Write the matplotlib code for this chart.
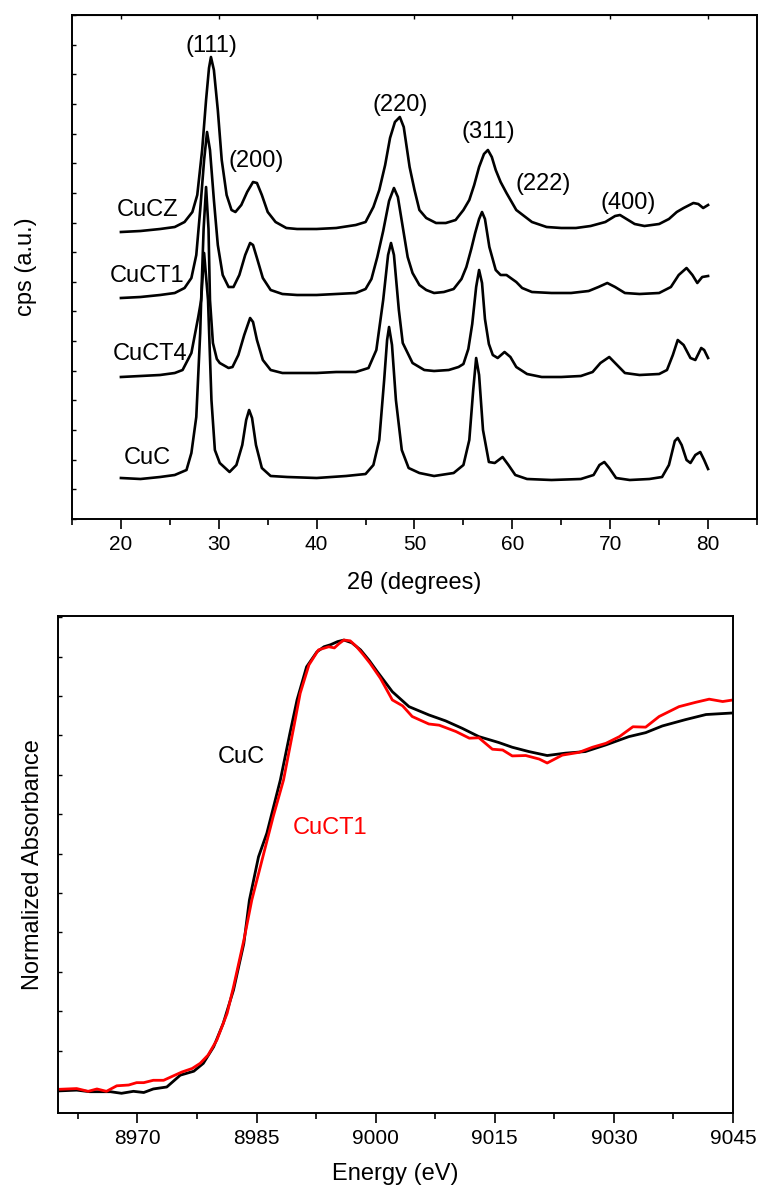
import numpy as np
import matplotlib
matplotlib.use("Agg")
import matplotlib.pyplot as plt
from matplotlib.ticker import MultipleLocator

plt.rcParams['font.family'] = ['Liberation Sans', 'DejaVu Sans']

# ---- XRD patterns (2theta in degrees, intensity in a.u., offset stack) ----
tt_cucz = [20, 22, 24, 25.5, 26.5, 27.3, 27.8, 28.3, 28.7, 29.0, 29.2, 29.5, 29.9, 30.3, 30.8, 31.3, 31.7,
           32.3, 32.9, 33.5, 33.9, 34.4, 35.0, 35.8, 36.9, 38, 40, 42, 44, 45, 45.8, 46.4, 47.0, 47.5,
           48.0, 48.5, 48.9, 49.5, 50.0, 50.5, 51.2, 52.2, 53.2, 54.2, 55.0, 55.6, 56.1, 56.6, 57.1, 57.5,
           57.9, 58.3, 58.8, 59.4, 60.4, 61.2, 62, 63.5, 65, 66.5, 68, 69.5, 70.5, 71, 71.5, 72.5, 73.5,
           75, 76, 76.8, 77.5, 78.5, 79, 79.5, 80]
i_cucz = [287, 288, 290, 292, 297, 307, 324, 369, 419, 451, 462, 449, 409, 359, 324, 309, 307,
          314, 327, 337, 336, 324, 307, 297, 291, 290, 290, 291, 294, 297, 312, 329, 354, 381,
          397, 402, 392, 352, 329, 309, 301, 296, 296, 299, 309, 319, 334, 352, 365, 369,
          362, 349, 337, 326, 309, 303, 297, 292, 291, 291, 293, 297, 303, 304, 301, 295, 293,
          295, 300, 307, 311, 316, 315, 311, 314]

tt_cuct1 = [20, 22, 24, 25.5, 26.5, 27.2, 27.7, 28.1, 28.5, 28.8, 29.1, 29.5, 29.9, 30.4, 31.0, 31.5,
            32.1, 32.7, 33.2, 33.5, 33.9, 34.5, 35.3, 36.5, 38, 40, 42, 44, 45.0, 45.6, 46.2, 46.8,
            47.4, 47.9, 48.3, 48.8, 49.3, 49.8, 50.5, 51.2, 52, 53, 54, 54.8, 55.3, 55.8, 56.2, 56.6,
            56.9, 57.2, 57.65, 58.3, 58.8, 59.4, 60.4, 61.0, 62, 64, 66, 67.8, 68.8, 69.7, 70.5, 71.5,
            73, 75, 76.2, 77, 77.8, 78.4, 78.9, 79.4, 80]
i_cuct1 = [221, 222, 224, 226, 231, 241, 264, 309, 359, 387, 369, 319, 274, 244, 232, 232,
           244, 264, 276, 274, 261, 241, 229, 225, 224, 224, 225, 226, 230, 240, 262, 288,
           318, 331, 322, 292, 262, 246, 234, 229, 226, 227, 230, 240, 252, 270, 286, 300,
           307, 300, 272, 249, 244, 244, 237, 231, 227, 226, 226, 228, 232, 236, 232, 226,
           225, 226, 232, 244, 251, 244, 236, 242, 243]

tt_cuct4 = [20, 22, 24, 25.5, 26.3, 27.2, 27.9, 28.2, 28.45, 28.7, 28.95, 29.1, 29.4, 29.8, 30.1, 31.0,
            31.4, 32.0, 32.6, 33.2, 33.5, 33.9, 34.5, 35.3, 36.5, 38, 40, 42, 44, 45.3, 46.1, 46.8,
            47.3, 47.6, 47.9, 48.4, 48.8, 49.8, 51, 52, 53.5, 54.5, 55.0, 55.5, 55.9, 56.3, 56.6, 56.9,
            57.2, 57.6, 58.0, 58.5, 59.2, 59.8, 60.4, 61.5, 63, 65, 67, 68.2, 69.0, 69.9, 70.6, 71.5,
            73, 75, 75.8, 76.4, 76.9, 77.5, 78.2, 78.7, 79.3, 79.6, 80]
i_cuct4 = [142, 143, 144, 146, 149, 166, 202, 219, 290, 332, 290, 219, 176, 160, 156, 151,
           152, 164, 184, 201, 197, 179, 159, 149, 146, 146, 146, 147, 147, 151, 169, 219,
           264, 276, 264, 209, 176, 156, 149, 148, 149, 152, 155, 170, 195, 232, 249, 236,
           200, 175, 164, 161, 167, 162, 152, 145, 142, 142, 143, 147, 156, 162, 155, 146,
           144, 145, 149, 164, 179, 174, 161, 159, 171, 169, 161]

tt_cuc = [20, 22, 24, 25.5, 26.7, 27.2, 27.7, 28.1, 28.2, 28.5, 28.9, 29.25, 29.6, 30.1, 31.1,
          31.8, 32.4, 32.8, 33.1, 33.4, 33.8, 34.4, 35.3, 37, 40, 43, 45, 45.8, 46.4, 46.9, 47.2,
          47.4, 47.7, 48.1, 48.7, 49.4, 50.5, 52, 54, 55.0, 55.6, 56.0, 56.3, 56.6, 57.0, 57.6, 58.2,
          59.0, 59.6, 60.3, 61.5, 64, 67, 68.3, 68.9, 69.4, 69.9, 70.6, 72, 74, 75.3, 76.0, 76.6,
          76.9, 77.3, 77.8, 78.2, 78.7, 79.2, 79.6, 80]
i_cuc = [41, 40, 42, 44, 49, 66, 102, 186, 219, 266, 219, 119, 69, 56, 47,
         54, 74, 99, 109, 101, 74, 51, 43, 42, 41, 43, 45, 54, 79, 139, 179,
         192, 174, 119, 69, 51, 46, 43, 46, 54, 79, 129, 161, 144, 89, 57, 56,
         62, 54, 44, 40, 39, 40, 44, 54, 57, 51, 41, 39, 40, 42, 54, 78,
         81, 74, 59, 56, 64, 67, 59, 50]

# ---- XANES Cu K-edge (energy in eV, normalized absorbance) ----
e_cuc = [8960, 8962.35, 8964.0, 8966.6, 8968.0, 8969.5, 8970.8, 8972.0, 8973.7, 8975.4, 8977.1,
         8978.3, 8979.6, 8980.8, 8982.1, 8983.4, 8984.1, 8985.25, 8986.3, 8988.0, 8989.2, 8990.1,
         8991.3, 8992.6, 8993.5, 8994.3, 8995.2, 8996.0, 8997.0, 8998.1, 8999.2, 9000.2, 9002.1,
         9004.2, 9006.7, 9008.8, 9010.9, 9013, 9015.5, 9017.2, 9019.3, 9021.6, 9023.9, 9026.4,
         9029, 9031.9, 9034, 9036.1, 9039, 9041.6, 9045]
a_cuc = [-0.002, 0.0, -0.004, -0.004, -0.008, -0.003, -0.006, 0.003, 0.008, 0.038, 0.048,
         0.068, 0.11, 0.169, 0.254, 0.372, 0.482, 0.592, 0.652, 0.787, 0.905, 0.99,
         1.074, 1.112, 1.125, 1.13, 1.138, 1.142, 1.135, 1.117, 1.09, 1.062, 1.011,
         0.973, 0.952, 0.937, 0.918, 0.897, 0.882, 0.870, 0.859, 0.849, 0.855, 0.859,
         0.876, 0.897, 0.907, 0.924, 0.94, 0.953, 0.957]

e_cuct1 = [8960, 8962.35, 8963.8, 8964.9, 8966.1, 8967.4, 8968.9, 8969.9, 8970.8, 8972.0, 8973.3,
           8974.5, 8975.6, 8976.9, 8977.9, 8978.9, 8980.0, 8981.3, 8982.1, 8983.4, 8984.4, 8985.9,
           8987.1, 8988.4, 8989.7, 8990.5, 8991.6, 8992.8, 8994.1, 8994.8, 8995.4, 8996.0, 8996.8,
           8997.6, 8998.4, 8999.3, 9000.6, 9002.1, 9003.4, 9004.6, 9006.7, 9008, 9010.1, 9011.8,
           9013, 9014.7, 9016, 9017.2, 9018.9, 9020.6, 9021.6, 9023.5, 9025.6, 9027.3, 9029,
           9030.7, 9032.4, 9034, 9035.7, 9038.2, 9040.3, 9042, 9043.7, 9045]
a_cuct1 = [0.002, 0.004, -0.003, 0.003, -0.003, 0.011, 0.013, 0.019, 0.019, 0.025, 0.025,
           0.036, 0.046, 0.055, 0.068, 0.089, 0.127, 0.195, 0.262, 0.38, 0.482, 0.60,
           0.694, 0.787, 0.922, 1.007, 1.079, 1.117, 1.125, 1.122, 1.133, 1.142, 1.140,
           1.125, 1.106, 1.083, 1.045, 0.99, 0.975, 0.948, 0.929, 0.926, 0.91, 0.893,
           0.894, 0.865, 0.863, 0.848, 0.849, 0.84, 0.83, 0.85, 0.857, 0.87, 0.88,
           0.897, 0.922, 0.921, 0.948, 0.973, 0.984, 0.992, 0.986, 0.99]

W, H = 758, 1191
fig = plt.figure(figsize=(W / 100, H / 100), dpi=100)

# top panel: XRD
ax1 = fig.add_axes([72 / W, 1 - 519 / H, (757 - 72) / W, (519 - 15) / H])
for tt, ii in [(tt_cucz, i_cucz), (tt_cuct1, i_cuct1), (tt_cuct4, i_cuct4), (tt_cuc, i_cuc)]:
    ax1.plot(tt, ii, color='black', lw=1.9)
ax1.set_xlim(15, 85)
ax1.set_ylim(0, 504)
ax1.set_xticks([20, 30, 40, 50, 60, 70, 80])
ax1.xaxis.set_minor_locator(MultipleLocator(5))
ax1.set_yticks(np.linspace(0, 504, 18))
ax1.tick_params(axis='x', which='major', direction='out', length=7.5, width=1.2,
                labelsize=15, pad=4)
ax1.tick_params(axis='x', which='minor', direction='out', length=4.5, width=1.2)
ax1.tick_params(axis='y', direction='in', length=3, width=1, labelleft=False)
# short inward ticks along the top frame
ax1.secondary_xaxis('top').tick_params(axis='x', which='both', direction='in', length=3,
                                      width=1, labeltop=False)
ax1.set_xlabel('2θ (degrees)', fontsize=17, labelpad=12)
ax1.set_ylabel('cps (a.u.)', fontsize=17, labelpad=25)

fs = 17
ax1.text(29.2, 473, '(111)', fontsize=fs, ha='center', va='center')
ax1.text(33.85, 358, '(200)', fontsize=fs, ha='center', va='center')
ax1.text(48.5, 414, '(220)', fontsize=fs, ha='center', va='center')
ax1.text(57.55, 387, '(311)', fontsize=fs, ha='center', va='center')
ax1.text(63.1, 335, '(222)', fontsize=fs, ha='center', va='center')
ax1.text(71.8, 316, '(400)', fontsize=fs, ha='center', va='center')
ax1.text(22.7, 309, 'CuCZ', fontsize=fs, ha='center', va='center')
ax1.text(22.7, 243, 'CuCT1', fontsize=fs, ha='center', va='center')
ax1.text(22.95, 165, 'CuCT4', fontsize=fs, ha='center', va='center')
ax1.text(22.7, 61, 'CuC', fontsize=fs, ha='center', va='center')

# bottom panel: XANES
ax2 = fig.add_axes([58 / W, 1 - 1113 / H, (733 - 58) / W, (1113 - 616) / H])
ax2.plot(e_cuc, a_cuc, color='black', lw=2.0)
ax2.plot(e_cuct1, a_cuct1, color='#ff0000', lw=2.0)
ax2.set_xlim(8960, 9045)
ax2.set_ylim(-0.058, 1.203)
ax2.set_xticks([8970, 8985, 9000, 9015, 9030, 9045])
ax2.xaxis.set_minor_locator(MultipleLocator(7.5))
ax2.set_yticks(np.arange(0, 1.21, 0.1))
ax2.tick_params(axis='x', which='major', direction='out', length=7.5, width=1.2,
                labelsize=15, pad=4)
ax2.tick_params(axis='x', which='minor', direction='out', length=4.5, width=1.2)
ax2.tick_params(axis='y', direction='in', length=3, width=1, labelleft=False)
ax2.set_xlabel('Energy (eV)', fontsize=17, labelpad=11)
ax2.set_ylabel('Normalized Absorbance', fontsize=17, labelpad=10)
ax2.text(8983.1, 0.846, 'CuC', fontsize=fs, ha='center', va='center')
ax2.text(8994.3, 0.666, 'CuCT1', fontsize=fs, ha='center', va='center', color='#ff0000')

for ax in (ax1, ax2):
    for s in ax.spines.values():
        s.set_linewidth(1.4)

fig.savefig('out.png', dpi=100)
